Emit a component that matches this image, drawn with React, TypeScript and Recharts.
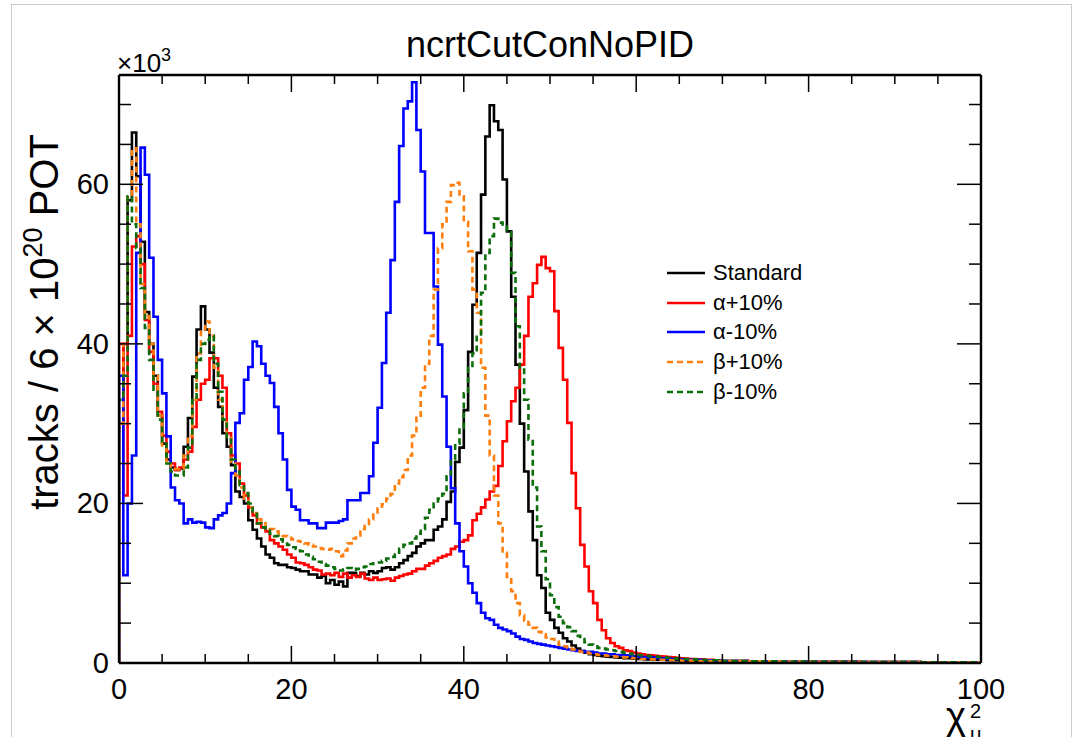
import React from 'react';
import { LineChart, Line, XAxis, YAxis, Legend } from 'recharts';

const FONT = '"Liberation Sans", Arial, Helvetica, sans-serif';
const W = 1079;
const H = 737;

// histogram binning: 200 bins of width 0.5 over chi2 in [0, 100]
const BIN_WIDTH = 0.5;
const X_MAX = 100;
const Y_MAX = 73.7; // x10^3

const X_TICKS = [0, 5, 10, 15, 20, 25, 30, 35, 40, 45, 50, 55, 60, 65, 70, 75, 80, 85, 90, 95, 100];
const Y_TICKS = [0, 5, 10, 15, 20, 25, 30, 35, 40, 45, 50, 55, 60, 65, 70];
const X_MAJOR = 20;
const Y_MAJOR = 20;

// bin contents (x10^3 tracks), bins 0..139 (chi2 0 - 70)
const standard = [
  30, 40, 58, 66.5, 61, 52.8, 44, 40, 36, 31,
  27.5, 25.5, 24.5, 24.2, 24.4, 27.1, 30.7, 35.9, 41.8, 44.7,
  41.8, 38.9, 34.5, 32.1, 28.8, 27.1, 24.8, 21.5, 20.8, 20.0,
  17.9, 16.7, 15.6, 14.6, 13.6, 13.2, 12.5, 12.3, 12.3, 12.0,
  11.9, 11.7, 11.5, 11.5, 11.1, 11.1, 10.7, 10.9, 10.0, 10.4,
  9.8, 10.2, 9.6, 11.3, 11.3, 10.9, 11.3, 11.1, 11.5, 11.3,
  11.5, 11.9, 12.0, 11.7, 12.0, 12.5, 12.9, 13.4, 13.8, 14.6,
  15.0, 15.4, 15.4, 16.7, 17.1, 18.0, 20.2, 21.5, 25.2, 27.0,
  31.7, 39.0, 44.9, 51.4, 58.7, 66.0, 69.9, 67.9, 66.8, 60.6,
  54.1, 45.9, 37.4, 30.0, 24.0, 19.0, 15.4, 11.0, 9.4, 6.3,
  5.4, 4.4, 3.8, 3.1, 2.7, 2.2, 1.8, 1.5, 1.3, 1.1,
  1.0, 0.9, 0.85, 0.8, 0.75, 0.7, 0.65, 0.6, 0.6, 0.55,
  0.5, 0.5, 0.45, 0.45, 0.4, 0.4, 0.4, 0.35, 0.35, 0.35,
  0.3, 0.3, 0.3, 0.3, 0.3, 0.25, 0.25, 0.25, 0.25, 0.25,
];

const alphaPlus = [
  40, 21, 41, 52.2, 53.5, 50, 43, 39, 35, 31.5,
  28.5, 26.5, 25, 24.2, 24.5, 25.5, 26.5, 29.6, 33, 35,
  35.5, 38.2, 38.2, 36, 34.5, 28.8, 26, 25, 22.5, 21,
  19.5, 18.5, 17.5, 17, 16.5, 15.4, 15, 14.6, 14.2, 13.6,
  13.2, 12.6, 12.5, 12.3, 12.0, 11.7, 11.6, 11.1, 11.2, 11.0,
  11.3, 10.8, 11.2, 10.7, 11.0, 10.8, 11.2, 10.6, 10.4, 10.7,
  10.4, 10.5, 10.6, 10.3, 10.7, 10.9, 11.1, 11.2, 11.5, 11.8,
  11.8, 12.2, 12.5, 12.8, 13.2, 13.4, 13.6, 14.3, 14.6, 15.2,
  15.4, 16.0, 17.9, 18.7, 19.5, 20.5, 21.5, 22.2, 24.7, 27.8,
  30.3, 32.8, 34.5, 37.4, 41, 45.9, 47.6, 49.9, 50.9, 49.5,
  49.1, 44.1, 39.5, 35.5, 30.1, 23.8, 19.4, 14.8, 12.1, 9.0,
  7.5, 5.4, 4.1, 3.1, 2.5, 2.1, 1.9, 1.6, 1.5, 1.3,
  1.2, 1.1, 1.0, 0.95, 0.9, 0.85, 0.8, 0.75, 0.7, 0.65,
  0.6, 0.55, 0.5, 0.5, 0.45, 0.45, 0.4, 0.4, 0.35, 0.35,
];

const alphaMinus = [
  36, 11, 20, 26, 51.4, 64.6, 61.2, 50.8, 43.4, 38,
  33.8, 28.4, 22, 20.4, 20, 17.5, 18, 17.6, 17.7, 17.6,
  17.0, 16.9, 18.0, 18.5, 18.8, 20, 23.8, 30.1, 31.3, 35.5,
  37.1, 40.3, 39.7, 37.5, 36, 35.1, 32.1, 28.8, 25.5, 21.7,
  19.6, 19.2, 17.9, 17.9, 17.5, 17.5, 16.9, 16.9, 17.6, 17.6,
  17.6, 17.8, 18, 20.4, 20.4, 20.4, 21.3, 21.3, 23.4, 27.6,
  32, 37.6, 43.9, 50.5, 57.8, 64.8, 69.5, 70.4, 72.8, 66.8,
  61.6, 53.9, 53.9, 47.2, 39.9, 33.4, 27.1, 21.9, 17.5, 14,
  12.1, 10, 8.8, 7.5, 6.3, 5.6, 5.4, 4.8, 4.4, 4.2,
  4.0, 3.7, 3.3, 3.0, 2.9, 2.7, 2.5, 2.4, 2.3, 2.2,
  2.1, 2.0, 1.9, 1.8, 1.7, 1.6, 1.5, 1.5, 1.4, 1.4,
  1.3, 1.2, 1.2, 1.1, 1.1, 1.0, 1.0, 0.95, 0.9, 0.85,
  0.8, 0.75, 0.7, 0.7, 0.65, 0.6, 0.6, 0.55, 0.5, 0.5,
  0.45, 0.45, 0.4, 0.4, 0.4, 0.35, 0.35, 0.35, 0.3, 0.3,
];

const betaPlus = [
  30, 40, 58.7, 64.5, 55, 47.5, 43.5, 40, 36, 31,
  27, 25, 24.5, 24.3, 24.4, 26, 28.5, 33, 38.8, 41.5,
  42.8, 41.0, 37, 33, 30.5, 28.4, 25.2, 23.5, 22, 20.6,
  19.5, 18.8, 18, 17.5, 17, 16.8, 16.5, 16.2, 15.9, 15.7,
  15.5, 15.3, 15.2, 15, 14.8, 14.6, 14.4, 14.3, 14.2, 14.3,
  14.0, 13.4, 14.1, 15.0, 15.6, 16.0, 16.8, 17.2, 18.0, 18.6,
  19.4, 19.9, 20.6, 21.2, 22.5, 23.3, 24.2, 26, 28.5, 31,
  34.5, 37.5, 41, 46.8, 52, 55, 57.8, 59.9, 60.2, 58.5,
  55.3, 51.6, 46.8, 43.9, 37, 31, 26, 21, 17.5, 13.8,
  10.8, 9, 7.5, 6, 5.3, 4.8, 4.4, 3.9, 3.6, 3.2,
  3.0, 2.7, 2.3, 2.1, 1.9, 1.7, 1.5, 1.4, 1.3, 1.2,
  1.1, 1.0, 0.95, 0.9, 0.85, 0.8, 0.75, 0.7, 0.65, 0.6,
  0.55, 0.5, 0.5, 0.45, 0.45, 0.4, 0.4, 0.35, 0.35, 0.35,
  0.3, 0.3, 0.3, 0.3, 0.25, 0.25, 0.25, 0.25, 0.25, 0.25,
];

const betaMinus = [
  33, 36, 58.5, 55, 52, 47, 42, 38, 34, 30.5,
  27.5, 25, 24, 23.5, 23.5, 24.5, 27, 33, 38, 40,
  40.5, 41, 37.5, 34, 30.5, 28, 25.5, 24, 22.3, 21.3,
  20, 18.7, 17.5, 17, 16.6, 16.2, 15.9, 15.5, 15.2, 14.8,
  14.5, 14.3, 14, 13.6, 13.3, 13, 12.7, 12.4, 12.2, 12,
  11.8, 11.6, 11.7, 11.9, 11.7, 11.8, 12, 12.1, 12.4, 12.5,
  12.6, 12.8, 13.1, 13.3, 13.6, 14.3, 14.8, 15, 15.6, 16.2,
  16.8, 18.2, 19.2, 20, 20.6, 21.2, 23.4, 25.5, 27.5, 29.5,
  33.8, 37, 38.8, 40.9, 46.4, 51.4, 53.5, 55.7, 55.2, 54.7,
  54, 48.9, 42.2, 37, 33, 28, 22, 17.1, 14, 10.5,
  8.5, 7, 5.8, 5, 4.5, 4, 3.4, 3, 2.6, 2.3,
  2.1, 1.9, 1.8, 1.7, 1.6, 1.5, 1.4, 1.3, 1.2, 1.1,
  1.0, 0.95, 0.9, 0.85, 0.8, 0.75, 0.7, 0.65, 0.6, 0.55,
  0.5, 0.5, 0.45, 0.45, 0.4, 0.4, 0.35, 0.35, 0.35, 0.3,
];

// shared far tail, bins 140..199 (chi2 70 - 100), all curves sit on top of each other here
const tail = [
  0.25, 0.25, 0.24, 0.24, 0.23, 0.23, 0.22, 0.22, 0.21, 0.21,
  0.2, 0.2, 0.2, 0.19, 0.19, 0.18, 0.18, 0.18, 0.17, 0.17,
  0.17, 0.16, 0.16, 0.16, 0.15, 0.15, 0.15, 0.15, 0.14, 0.14,
  0.14, 0.14, 0.13, 0.13, 0.13, 0.13, 0.12, 0.12, 0.12, 0.12,
  0.12, 0.11, 0.11, 0.11, 0.11, 0.11, 0.1, 0.1, 0.1, 0.1,
  0.1, 0.1, 0.1, 0.1, 0.09, 0.09, 0.09, 0.09, 0.09, 0.09,
];

type Series = { key: string; name: string; values: number[]; color: string; dash?: string };

const SERIES: Series[] = [
  { key: 'standard', name: 'Standard', values: standard, color: '#000000' },
  { key: 'alphaPlus', name: 'α+10%', values: alphaPlus, color: '#ff0000' },
  { key: 'alphaMinus', name: 'α-10%', values: alphaMinus, color: '#0000ff' },
  { key: 'betaPlus', name: 'β+10%', values: betaPlus, color: '#ff7f0e', dash: '6 4' },
  { key: 'betaMinus', name: 'β-10%', values: betaMinus, color: '#0b6e0b', dash: '6 4' },
];

function buildRows() {
  const nBins = standard.length + tail.length;
  const content = (s: Series, i: number) => (i < s.values.length ? s.values[i] : tail[i - s.values.length]);
  const rows: Record<string, number>[] = [];
  // start from zero at the left edge so the first bin gets its rising edge
  const first: Record<string, number> = { x: 0 };
  SERIES.forEach((s) => (first[s.key] = 0));
  rows.push(first);
  for (let i = 0; i < nBins; i++) {
    const r: Record<string, number> = { x: i * BIN_WIDTH };
    SERIES.forEach((s) => (r[s.key] = content(s, i)));
    rows.push(r);
  }
  const last: Record<string, number> = { x: nBins * BIN_WIDTH };
  SERIES.forEach((s) => (last[s.key] = content(s, nBins - 1)));
  rows.push(last);
  return rows;
}

const rows = buildRows();

const TICK = { stroke: '#000', strokeWidth: 1.5 };

function BottomTick(props: any) {
  const { x, y, payload } = props;
  const major = payload.value % X_MAJOR === 0;
  return (
    <g>
      <line x1={x} x2={x} y1={y} y2={y - (major ? 17 : 9)} {...TICK} />
      {major && (
        <text x={x} y={y + 36} textAnchor="middle" fontSize={29} fontFamily={FONT} fill="#000">
          {payload.value}
        </text>
      )}
    </g>
  );
}

function TopTick(props: any) {
  const { x, y, payload } = props;
  const major = payload.value % X_MAJOR === 0;
  return <line x1={x} x2={x} y1={y} y2={y + (major ? 17 : 9)} {...TICK} />;
}

function LeftTick(props: any) {
  const { x, y, payload } = props;
  const major = payload.value % Y_MAJOR === 0;
  return (
    <g>
      <line x1={x} x2={x + (major ? 24 : 12)} y1={y} y2={y} {...TICK} />
      {major && (
        <text x={x - 10} y={y + 10} textAnchor="end" fontSize={29} fontFamily={FONT} fill="#000">
          {payload.value}
        </text>
      )}
    </g>
  );
}

function RightTick(props: any) {
  const { x, y, payload } = props;
  const major = payload.value % Y_MAJOR === 0;
  return <line x1={x} x2={x - (major ? 24 : 12)} y1={y} y2={y} {...TICK} />;
}

function LegendBox() {
  return (
    <div style={{ fontFamily: FONT, fontSize: 22, color: '#000' }}>
      {SERIES.map((s) => (
        <div key={s.key} style={{ height: 29.7, display: 'flex', alignItems: 'center' }}>
          <svg width={38} height={10} style={{ marginRight: 8 }}>
            <line x1={0} x2={38} y1={5} y2={5} stroke={s.color} strokeWidth={2.6} strokeDasharray={s.dash} />
          </svg>
          <span>{s.name}</span>
        </div>
      ))}
    </div>
  );
}

const AXIS_LINE = { stroke: '#000', strokeWidth: 2.4 };

export default function App() {
  return (
    <div style={{ position: 'absolute', left: 0, top: 0, width: W, height: H, background: '#fff', overflow: 'hidden' }}>
      <LineChart width={W} height={H} data={rows} margin={{ top: 74, right: 97, bottom: 24, left: 0 }}>
        <XAxis
          xAxisId="b"
          dataKey="x"
          type="number"
          domain={[0, X_MAX]}
          allowDataOverflow
          ticks={X_TICKS}
          interval={0}
          height={50}
          tickSize={0}
          tickMargin={0}
          tickLine={false}
          axisLine={AXIS_LINE}
          tick={<BottomTick />}
        />
        <XAxis
          xAxisId="t"
          orientation="top"
          dataKey="x"
          type="number"
          domain={[0, X_MAX]}
          allowDataOverflow
          ticks={X_TICKS}
          interval={0}
          height={1}
          tickSize={0}
          tickMargin={0}
          tickLine={false}
          axisLine={AXIS_LINE}
          tick={<TopTick />}
        />
        <YAxis
          yAxisId="l"
          type="number"
          domain={[0, Y_MAX]}
          allowDataOverflow
          ticks={Y_TICKS}
          interval={0}
          width={119}
          tickSize={0}
          tickMargin={0}
          tickLine={false}
          axisLine={AXIS_LINE}
          tick={<LeftTick />}
        />
        <YAxis
          yAxisId="r"
          orientation="right"
          type="number"
          domain={[0, Y_MAX]}
          allowDataOverflow
          ticks={Y_TICKS}
          interval={0}
          width={1}
          tickSize={0}
          tickMargin={0}
          tickLine={false}
          axisLine={AXIS_LINE}
          tick={<RightTick />}
        />
        {/* invisible copy bound to the mirror axes so the top / right frame gets drawn */}
        <Line
          xAxisId="t"
          yAxisId="r"
          type="stepAfter"
          dataKey="standard"
          stroke="none"
          dot={false}
          activeDot={false}
          legendType="none"
          isAnimationActive={false}
        />
        {SERIES.map((s) => (
          <Line
            key={s.key}
            xAxisId="b"
            yAxisId="l"
            type="stepAfter"
            dataKey={s.key}
            name={s.name}
            stroke={s.color}
            strokeWidth={2.6}
            strokeDasharray={s.dash}
            dot={false}
            activeDot={false}
            isAnimationActive={false}
          />
        ))}
        <Legend
          layout="vertical"
          align="center"
          verticalAlign="middle"
          wrapperStyle={{ left: 667, top: 258, width: 180 }}
          content={() => <LegendBox />}
        />
      </LineChart>
      <svg
        width={W}
        height={H}
        style={{ position: 'absolute', left: 0, top: 0, pointerEvents: 'none' }}
        fontFamily={FONT}
      >
        <rect x={11.5} y={4.5} width={1060} height={760} fill="none" stroke="#cccccc" strokeWidth={1} />
        <text x={550} y={57} textAnchor="middle" fontSize={36} fill="#000">
          ncrtCutConNoPID
        </text>
        <text x={117} y={72} fontSize={26} fill="#000">
          ×10
          <tspan fontSize={18} dy={-11}>
            3
          </tspan>
        </text>
        <g transform="translate(58, 322) rotate(-90)">
          <text x={0} y={0} textAnchor="middle" fontSize={40} fill="#000">
            tracks / 6 × 10
            <tspan fontSize={27} dy={-16}>
              20
            </tspan>
            <tspan dy={16}> POT</tspan>
          </text>
        </g>
        <text x={946} y={729} fontSize={38} fill="#000">
          χ
        </text>
        <text x={970} y={718} fontSize={20} fill="#000">
          2
        </text>
        <text x={970} y={741} fontSize={20} fill="#000">
          μ
        </text>
      </svg>
    </div>
  );
}
